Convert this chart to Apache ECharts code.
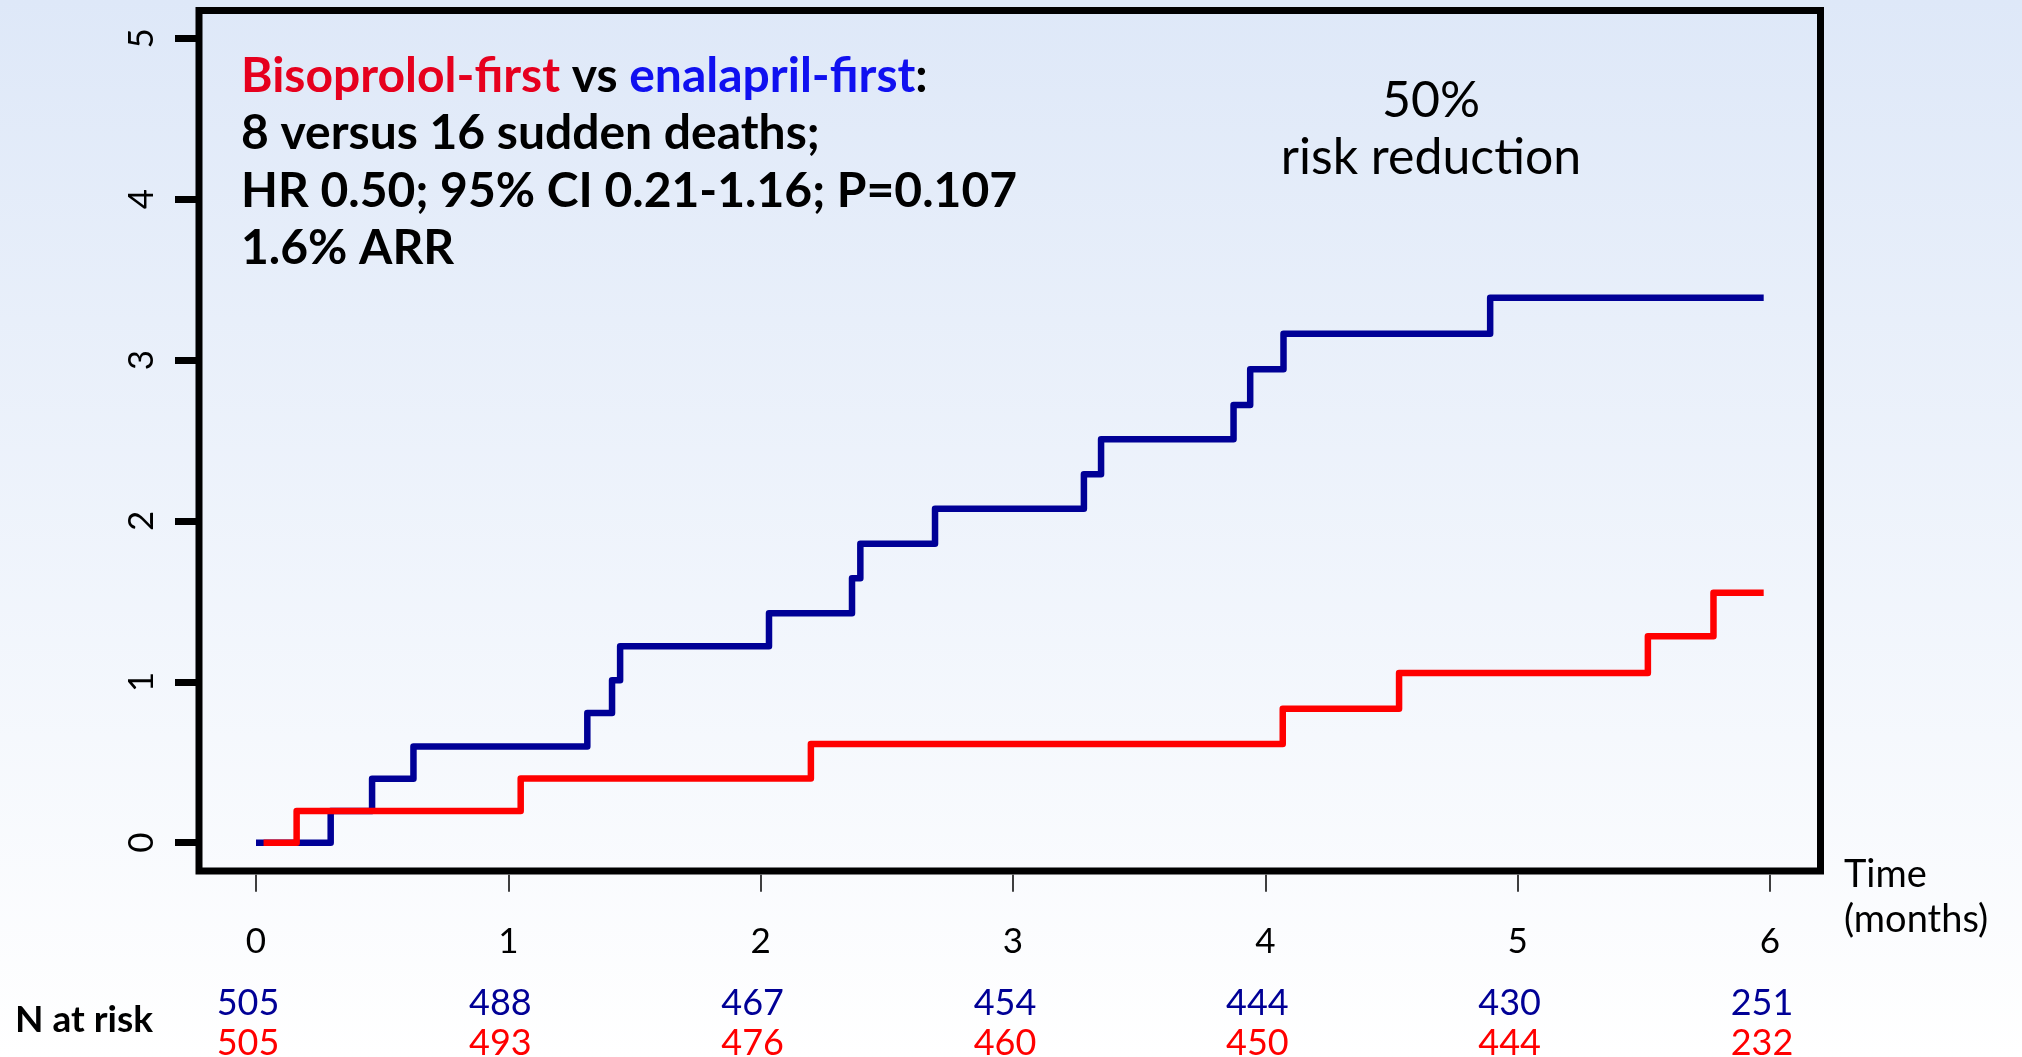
<!DOCTYPE html>
<html>
<head>
<meta charset="utf-8">
<script src="https://cdn.jsdelivr.net/npm/echarts@6/dist/echarts.min.js"></script>
<style>
  html, body { margin: 0; padding: 0; }
  #chart { width: 2022px; height: 1057px; }
</style>
</head>
<body>
<div id="chart"></div>
<script>
// Cumulative sudden death (%) over follow-up, Kaplan-Meier style step curves
const months = [0, 1, 2, 3, 4, 5, 6];
const yTicks = [0, 1, 2, 3, 4, 5];

const enalaprilTimes = [0, 0.296, 0.46, 0.624, 1.313, 1.411, 1.443, 2.033, 2.362, 2.395, 2.691, 3.281, 3.349, 3.874, 3.940, 4.072, 4.891, 5.975];
const enalaprilRisk  = [0, 0.197, 0.397, 0.598, 0.806, 1.009, 1.221, 1.426, 1.644, 1.858, 2.076, 2.290, 2.507, 2.721, 2.943, 3.163, 3.387, 3.387];

const bisoprololTimes = [0.03, 0.161, 1.049, 2.199, 4.069, 4.530, 5.516, 5.776, 5.975];
const bisoprololRisk  = [0, 0.197, 0.399, 0.613, 0.832, 1.055, 1.283, 1.553, 1.553];

// Number at risk at each month tick
const atRiskEnalapril  = [505, 488, 467, 454, 444, 430, 251];
const atRiskBisoprolol = [505, 493, 476, 460, 450, 444, 232];

const FONT = 'Lato, "Open Sans", "DejaVu Sans", sans-serif';
const BLUE_LINE = '#000096';
const RED_LINE = '#ff0000';

const toPairs = (xs, ys) => xs.map((x, i) => [x, ys[i]]);
const atRiskLabel = (arr) => (v) => {
  const i = months.indexOf(Math.round(v));
  return i >= 0 ? String(arr[i]) : '';
};

const chart = echarts.init(document.getElementById('chart'), null, { renderer: 'canvas' });

chart.setOption({
  animation: false,
  backgroundColor: {
    type: 'linear', x: 0, y: 0, x2: 0, y2: 1,
    colorStops: [
      { offset: 0, color: '#dee8f8' },
      { offset: 1, color: '#ffffff' }
    ]
  },
  grid: [
    // data area: 0..6 months, 0..5 %
    { left: 256, right: 252, top: 38.3, bottom: 214.3, show: false, outerBoundsMode: 'none' },
    // framing box around the plot
    { left: 199, right: 201.5, top: 10.5, bottom: 186, show: true, outerBoundsMode: 'none',
      borderColor: '#000', borderWidth: 7, backgroundColor: 'transparent' }
  ],
  xAxis: [
    {
      type: 'value', gridIndex: 0, min: 0, max: 6, interval: 1,
      position: 'bottom', offset: 32,
      axisLine: { show: false, onZero: false },
      axisTick: { show: true, length: 17, lineStyle: { color: '#000', width: 1.5 } },
      axisLabel: { show: true, margin: 50, fontSize: 35, color: '#000', fontFamily: FONT },
      splitLine: { show: false }
    },
    {
      type: 'value', gridIndex: 0, min: 0, max: 6, interval: 1,
      position: 'bottom', offset: 135,
      axisLine: { show: false, onZero: false }, axisTick: { show: false }, splitLine: { show: false },
      axisLabel: { show: true, margin: 8, fontSize: 36, color: '#000096', fontFamily: FONT,
        padding: [0, 16, 0, 0], formatter: atRiskLabel(atRiskEnalapril) }
    },
    {
      type: 'value', gridIndex: 0, min: 0, max: 6, interval: 1,
      position: 'bottom', offset: 175,
      axisLine: { show: false, onZero: false }, axisTick: { show: false }, splitLine: { show: false },
      axisLabel: { show: true, margin: 8, fontSize: 36, color: '#ff0000', fontFamily: FONT,
        padding: [0, 16, 0, 0], formatter: atRiskLabel(atRiskBisoprolol) }
    },
    { type: 'value', gridIndex: 1, show: false, min: 0, max: 1 }
  ],
  yAxis: [
    {
      type: 'value', gridIndex: 0, min: 0, max: 5, interval: 1,
      position: 'left', offset: 57,
      axisLine: { show: false, onZero: false },
      axisTick: { show: true, length: 24, lineStyle: { color: '#000', width: 7 } },
      axisLabel: { show: true, rotate: 90, margin: 40, fontSize: 35, color: '#000', fontFamily: FONT,
        formatter: (v) => yTicks.includes(v) ? String(v) : '' },
      splitLine: { show: false }
    },
    { type: 'value', gridIndex: 1, show: false, min: 0, max: 1 }
  ],
  series: [
    {
      name: 'enalapril-first', type: 'line', xAxisIndex: 0, yAxisIndex: 0,
      step: 'end', showSymbol: false, z: 3,
      lineStyle: { color: BLUE_LINE, width: 6.5, join: 'round', cap: 'butt' },
      data: toPairs(enalaprilTimes, enalaprilRisk)
    },
    {
      name: 'bisoprolol-first', type: 'line', xAxisIndex: 0, yAxisIndex: 0,
      step: 'end', showSymbol: false, z: 4,
      lineStyle: { color: RED_LINE, width: 6.5, join: 'round', cap: 'butt' },
      data: toPairs(bisoprololTimes, bisoprololRisk)
    }
  ],
  graphic: [
    {
      type: 'text', x: 241, y: 77, z: 10,
      style: {
        text: '{r|Bisoprolol-first}{k| vs }{b|enalapril-first}{k|:}',
        verticalAlign: 'middle',
        rich: {
          r: { fill: '#e6001e', fontSize: 48, fontWeight: 'bold', fontFamily: FONT },
          k: { fill: '#000', fontSize: 48, fontWeight: 'bold', fontFamily: FONT },
          b: { fill: '#1010f0', fontSize: 48, fontWeight: 'bold', fontFamily: FONT }
        }
      }
    },
    { type: 'text', x: 241, y: 134, z: 10,
      style: { text: '8 versus 16 sudden deaths;', fill: '#000', font: 'bold 48px ' + FONT, verticalAlign: 'middle' } },
    { type: 'text', x: 241, y: 192, z: 10,
      style: { text: 'HR 0.50; 95% CI 0.21-1.16; P=0.107', fill: '#000', font: 'bold 48px ' + FONT, verticalAlign: 'middle' } },
    { type: 'text', x: 241, y: 249, z: 10,
      style: { text: '1.6% ARR', fill: '#000', font: 'bold 48px ' + FONT, verticalAlign: 'middle' } },
    { type: 'text', x: 1431, y: 101, z: 10,
      style: { text: '50%', fill: '#000', font: '50px ' + FONT, align: 'center', verticalAlign: 'middle' } },
    { type: 'text', x: 1431, y: 158, z: 10,
      style: { text: 'risk reduction', fill: '#000', font: '50px ' + FONT, align: 'center', verticalAlign: 'middle' } },
    { type: 'text', x: 1844, y: 875, z: 10,
      style: { text: 'Time', fill: '#000', font: '38px ' + FONT, verticalAlign: 'middle' } },
    { type: 'text', x: 1844, y: 920, z: 10,
      style: { text: '(months)', fill: '#000', font: '38px ' + FONT, verticalAlign: 'middle' } },
    { type: 'text', x: 15, y: 1020, z: 10,
      style: { text: 'N at risk', fill: '#000', font: 'bold 37px ' + FONT, verticalAlign: 'middle' } }
  ]
});
</script>
</body>
</html>
